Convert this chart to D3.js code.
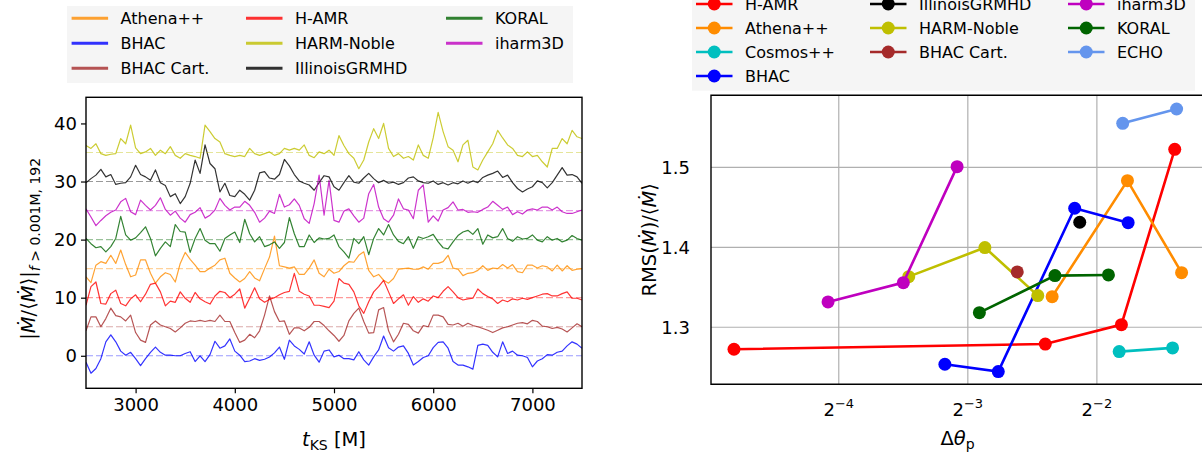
<!DOCTYPE html>
<html>
<head>
<meta charset="utf-8">
<script src="https://cdn.jsdelivr.net/npm/d3@7/dist/d3.min.js"></script>
<style>
  body { margin: 0; background: #fff; }
  svg { font-family: 'DejaVu Sans', sans-serif; }
</style>
</head>
<body>
<svg id="fig" width="1202" height="457"></svg>
<script>
// LEFT PANEL DATA: accretion rate (deviation from offset) vs time
const times = [
  2500, 2550, 2600, 2650, 2700, 2750, 2800, 2850, 2900, 2950,
  3000, 3050, 3100, 3150, 3200, 3250, 3300, 3350, 3400, 3450,
  3500, 3550, 3600, 3650, 3700, 3750, 3800, 3850, 3900, 3950,
  4000, 4050, 4100, 4150, 4200, 4250, 4300, 4350, 4400, 4450,
  4500, 4550, 4600, 4650, 4700, 4750, 4800, 4850, 4900, 4950,
  5000, 5050, 5100, 5150, 5200, 5250, 5300, 5350, 5400, 5450,
  5500, 5550, 5600, 5650, 5700, 5750, 5800, 5850, 5900, 5950,
  6000, 6050, 6100, 6150, 6200, 6250, 6300, 6350, 6400, 6450,
  6500, 6550, 6600, 6650, 6700, 6750, 6800, 6850, 6900, 6950,
  7000, 7050, 7100, 7150, 7200, 7250, 7300, 7350, 7400, 7450,
  7500];

const athenaMdot = [
  -1.4, -2.4, 0.6, 1.2, 0.9, 2.3, 0.9, 3.2, 0.7, -1.4,
  -1.1, 1.5, 1.5, -0.8, -2.5, -1.4, -0.7, -1.0, -2.3, 0.9,
  2.8, 1.6, 0.6, -0.5, -0.5, 0.1, 0.6, 1.5, 1.8, -0.8,
  -1.6, -2.3, -1.7, -0.5, -1.6, -2.1, 0.0, 2.0, 5.6, 0.5,
  0.3, 0.1, 0.3, -1.0, -1.0, 0.1, 1.5, -0.8, -1.4, -0.1,
  -0.8, -0.5, 0.5, 1.2, 1.1, 2.3, 2.9, -0.3, -1.4, -1.0,
  -2.0, -2.5, -1.7, -0.1, 0.0, 0.1, -0.1, -0.1, 0.3, -0.1,
  0.9, 0.9, 1.2, 2.3, 0.1, -0.1, -1.2, -0.8, -0.7, -0.3,
  0.5, -0.3, 0.1, 0.0, 0.7, 0.1, 0.7, -0.5, -0.7, 0.6,
  0.6, 0.1, 0.5, 0.3, -0.4, 0.6, -0.4, 0.5, -0.3, -0.1,
  0.0];
const bhacMdot = [
  -1.1, -3.0, -2.2, -0.5, 2.4, 3.6, 2.4, 0.8, 0.1, 0.6,
  -0.5, -1.7, -0.5, 0.6, 1.5, 0.6, 0.1, 0.1, 0.0, 0.0,
  0.4, 0.7, -1.0, 0.0, -1.0, 0.2, 2.5, 1.3, 1.7, 2.9,
  0.8, 0.1, -1.0, -0.9, -0.5, -0.8, -0.6, -0.2, 0.5, 1.5,
  -0.6, 2.7, 1.7, 1.1, 0.3, 2.4, 0.1, -1.1, 0.8, 1.0,
  -0.2, 0.1, -0.5, -0.5, -0.7, 0.7, -0.7, -1.6, -0.2, 1.0,
  3.4, 1.4, 0.8, 1.5, 1.7, 0.4, -1.6, -1.0, -0.3, 0.0,
  1.4, 2.3, 2.4, 1.3, -1.0, -1.6, -1.6, -1.9, -2.3, 1.8,
  2.0, 1.8, 0.6, -0.2, 2.4, 0.4, 0.8, 0.1, 0.0, -0.3,
  -1.9, -0.9, -0.5, 0.2, 0.1, 0.6, 0.8, 1.7, 2.4, 2.0,
  1.3];
const bhacCartMdot = [
  -0.7, 1.7, 1.7, 0.0, 1.4, 3.2, 1.9, 1.7, 1.0, 2.0,
  -1.0, -2.3, -2.7, 0.3, 1.0, 0.3, 0.0, -0.3, -0.9, -0.2,
  0.6, 1.0, 0.9, 1.1, 0.9, 1.1, 0.9, 2.0, 0.9, 0.9,
  -1.0, -2.7, -2.3, -1.3, -1.9, -0.7, 2.0, 5.3, 2.6, 0.9,
  1.0, -1.3, -0.2, -0.2, -0.7, -0.1, 0.9, 0.9, 0.2, -0.7,
  -1.5, -2.5, -1.5, 1.0, 2.3, 3.2, 0.9, -1.1, -1.0, 2.9,
  3.3, -0.7, -2.6, -1.3, 0.6, 0.4, -0.7, -1.1, 0.2, 0.0,
  2.0, 2.0, 1.7, 0.4, 0.3, 0.6, 0.1, 0.6, 0.2, 0.0,
  -0.3, -0.6, -1.0, -0.6, -0.2, 0.0, 0.3, 0.6, 0.7, 0.5,
  1.1, 0.9, 0.1, 0.0, -0.3, -0.1, -0.4, -0.9, -0.2, 0.5,
  0.0];
const hamrMdot = [
  -1.3, 1.9, 2.7, -1.0, -1.1, 0.7, 1.3, -1.0, -1.4, -0.2,
  0.5, -0.7, 0.6, 2.3, 2.5, 1.0, -1.4, -0.6, -0.8, 1.0,
  -0.1, -0.8, 0.9, -0.2, -0.7, -1.1, 0.3, 1.1, 0.9, 0.0,
  0.6, 1.5, -1.8, -0.1, 1.7, -0.2, -0.8, -0.3, 0.0, 0.5,
  0.9, 1.1, 4.2, 1.1, 0.6, 0.3, -1.3, -1.3, -1.5, -1.7,
  -0.6, 3.3, 2.5, 2.3, 1.0, -1.4, -2.7, -0.7, 1.0, 1.9,
  3.0, 1.0, -1.0, -0.2, 0.5, -1.3, 0.2, -0.8, -0.2, -0.6,
  0.3, 0.0, 1.1, 1.9, 1.0, 0.0, -0.4, -0.2, -0.1, 1.5,
  0.7, 0.2, -0.2, -1.0, -0.4, -0.7, -0.2, -0.4, -0.1, -0.3,
  0.0, 0.3, 0.6, 0.7, 0.3, 0.3, 0.7, 1.0, -0.1, -0.1,
  -0.4];
const harmNobleMdot = [
  1.2, 0.7, 1.5, -0.2, -0.5, -0.3, -0.2, 2.4, 1.5, 4.7,
  0.8, -0.2, 0.1, 0.7, -0.5, 0.4, -0.2, 1.0, -0.5, -1.0,
  -0.2, -0.5, -0.7, -1.0, 4.7, 3.6, 2.4, 1.8, -0.2, -0.5,
  -0.7, -0.5, -0.7, 0.7, -0.2, -0.5, -0.2, 0.1, -0.5, -0.2,
  0.7, 0.4, 0.7, 0.4, 1.3, -0.5, -0.9, 0.1, -0.2, 0.4,
  -0.5, 2.9, 1.2, -0.2, -1.0, -2.8, -1.3, 1.8, 4.1, 2.4,
  5.0, 0.7, -0.7, -0.2, -1.0, -0.7, -1.3, 1.3, -0.5, -1.0,
  2.5, 6.9, 3.6, 1.0, 0.4, -1.6, 1.3, 2.1, -2.5, -3.0,
  -1.3, 0.1, 1.5, 3.8, 2.5, 1.3, 0.7, -0.5, -0.7, 0.1,
  -0.7, -0.5, -1.6, -2.5, 0.7, 0.7, 2.4, 1.5, 3.8, 2.7,
  2.4];
const illinoisMdot = [
  -0.2, 0.5, 1.1, 2.1, 0.8, 1.2, -0.5, -0.3, -0.2, 0.8,
  2.8, 1.2, 0.8, 0.2, 2.0, -0.2, -0.7, -2.6, -2.1, -3.8,
  -2.6, -0.3, 3.7, 1.4, 6.3, 3.1, 2.2, -1.8, -0.3, -2.4,
  -2.6, -1.5, -2.2, -3.2, -1.5, 1.5, 1.7, 0.6, 0.4, 1.2,
  3.8, 2.7, 1.2, 0.1, -0.3, -0.6, -1.5, -0.2, 1.0, 0.8,
  -0.9, -1.5, -0.2, 1.0, -0.1, -0.3, 0.6, 1.4, 0.5, -0.2,
  0.2, -0.3, -0.1, -0.5, -0.2, 0.6, 0.8, 0.1, -0.2, -0.3,
  0.1, -0.5, -0.2, -0.6, -0.2, -0.4, 0.1, -0.3, 0.1, -0.2,
  0.7, 1.1, 1.4, 1.8, 0.7, 1.1, -0.2, -1.2, -1.8, -1.3,
  -0.9, 0.1, -0.2, -1.1, -0.2, 1.1, 2.4, 1.1, 1.2, 0.8,
  -0.3];
const koralMdot = [
  0.2, -0.7, -1.4, -1.2, -2.1, -1.2, 0.2, 4.0, 0.8, -0.1,
  0.3, 1.2, 2.2, 0.2, -2.8, -1.5, -0.4, -1.2, 2.6, 1.4,
  1.3, -2.2, 0.2, 1.9, -0.1, -0.7, -0.7, -2.0, 0.2, 0.8,
  1.3, -0.5, 3.5, 1.0, -0.4, 0.5, -1.2, -0.9, -0.4, -1.5,
  -0.5, 3.8, 1.0, -1.2, -1.2, 0.8, -0.5, 0.3, 0.1, 0.2,
  0.8, -1.2, -2.1, -3.2, 0.2, -0.7, 0.5, -2.6, 0.2, 1.9,
  0.8, 2.6, 0.8, -0.3, -0.7, 0.5, -1.5, 0.5, 0.2, 0.5,
  0.9, -0.4, -1.4, -1.6, -0.4, 0.7, 1.3, 1.6, 0.9, 1.9,
  -0.8, 0.8, 0.3, 0.5, 1.9, 0.2, -0.3, 0.5, 0.1, 0.2,
  0.8, -0.1, -0.4, 0.5, -0.1, 0.2, -0.4, -0.1, 0.7, 0.2,
  -0.1];
const iharmMdot = [
  0.3, -1.1, -2.6, -1.7, -0.9, -0.3, 0.1, 1.5, 2.1, -0.2,
  -0.7, 1.8, 0.9, 0.1, 0.9, 2.2, 0.2, -0.8, -0.1, -1.3,
  -2.0, -0.7, -0.3, 0.5, -1.3, -0.8, 0.1, 2.1, 0.9, 0.1,
  0.6, 0.6, 1.6, 0.9, -0.3, -2.0, -1.3, -0.1, -0.5, 2.8,
  0.6, 1.0, 2.0, 0.9, -1.4, -2.2, 1.2, 6.1, -0.8, 5.2,
  -1.7, -2.0, -0.1, 0.3, -0.9, -2.0, -1.3, 2.9, 4.5, 0.6,
  -1.4, -2.0, -0.8, 2.0, 0.3, 0.1, -1.4, 3.5, 4.4, -2.0,
  -0.9, -1.8, 0.1, 0.5, 1.5, 0.1, 0.2, -0.3, -0.2, -0.3,
  0.2, 0.6, 1.6, 0.9, 0.2, 0.6, -0.7, -0.2, -0.6, 0.1,
  0.3, 0.1, 0.6, 0.6, 0.1, 0.6, -0.2, -0.5, -0.5, -0.2,
  0.1];

const leftCodes = ['Athena++', 'BHAC', 'BHAC Cart.', 'H-AMR', 'HARM-Noble', 'IllinoisGRMHD', 'KORAL', 'iharm3D'];
const leftOffsets = [15, 0, 5, 10, 35, 30, 20, 25];
const leftColors = ['#ff8c00', '#0000ff', '#a52a2a', '#ff0000', '#bfbf00', '#000000', '#006400', '#bf00bf'];
const leftValues = [athenaMdot, bhacMdot, bhacCartMdot, hamrMdot, harmNobleMdot, illinoisMdot, koralMdot, iharmMdot];
const leftXTicks = [3000, 4000, 5000, 6000, 7000];
const leftYTicks = [0, 10, 20, 30, 40];

// RIGHT PANEL DATA: RMS(Mdot)/<Mdot> vs polar resolution
const hamrTheta = [0.0356, 0.1895, 0.2852, 0.3798];
const hamrRms = [1.2725, 1.279, 1.3033, 1.5225];
const athenaTheta = [0.1966, 0.2946, 0.394];
const athenaRms = [1.3383, 1.4833, 1.3683];
const cosmosTheta = [0.2818, 0.3754];
const cosmosRms = [1.2696, 1.2742];
const bhacTheta = [0.1105, 0.1472, 0.2219, 0.2957];
const bhacRms = [1.2538, 1.2446, 1.4488, 1.4308];
const illinoisTheta = [0.228];
const illinoisRms = [1.4313];
const harmNobleTheta = [0.091, 0.137, 0.182];
const harmNobleRms = [1.3633, 1.3996, 1.3396];
const bhacCartTheta = [0.163];
const bhacCartRms = [1.3692];
const iharmTheta = [0.059, 0.0884, 0.118];
const iharmRms = [1.3317, 1.3558, 1.5008];
const koralTheta = [0.133, 0.1996, 0.266];
const koralRms = [1.3183, 1.3646, 1.3654];
const echoTheta = [0.2872, 0.3836];
const echoRms = [1.555, 1.5729];

const rightCodes = ['H-AMR', 'Athena++', 'Cosmos++', 'BHAC', 'IllinoisGRMHD', 'HARM-Noble', 'BHAC Cart.', 'iharm3D', 'KORAL', 'ECHO'];
const rightColors = ['#ff0000', '#ff8c00', '#00bfbf', '#0000ff', '#000000', '#bfbf00', '#a52a2a', '#bf00bf', '#006400', '#6495ed'];
const rightTheta = [hamrTheta, athenaTheta, cosmosTheta, bhacTheta, illinoisTheta, harmNobleTheta, bhacCartTheta, iharmTheta, koralTheta, echoTheta];
const rightRms = [hamrRms, athenaRms, cosmosRms, bhacRms, illinoisRms, harmNobleRms, bhacCartRms, iharmRms, koralRms, echoRms];
const rightXTicks = [-4, -3, -2];
const rightYTicks = [1.3, 1.4, 1.5];

const svg = d3.select('#fig');
const TICK_FONT = '18px';
const LABEL_FONT = '19.5px';
const SUB_FONT = '14px';
const LEGEND_FONT = '16px';

// ---------- LEFT PANEL ----------
const L = { left: 86, right: 582, top: 97.3, bottom: 388.3 };
const xL = d3.scaleLinear().domain([2500, 7500]).range([L.left, L.right]);
const yL = d3.scaleLinear().domain([-5.6, 44.5]).range([L.bottom, L.top]);

svg.append('clipPath').attr('id', 'clipL')
  .append('rect')
  .attr('x', L.left).attr('y', L.top)
  .attr('width', L.right - L.left).attr('height', L.bottom - L.top);

const plotL = svg.append('g').attr('clip-path', 'url(#clipL)');

leftValues.forEach((vals, k) => {
  const off = leftOffsets[k];
  const line = d3.line()
    .x((d, i) => xL(times[i]))
    .y((d) => yL(d + off));
  plotL.append('path')
    .datum(vals)
    .attr('d', line)
    .attr('fill', 'none')
    .attr('stroke', leftColors[k])
    .attr('stroke-opacity', 0.8)
    .attr('stroke-width', 1.2)
    .attr('stroke-linejoin', 'round');
});

// dashed reference lines at each offset
leftOffsets.forEach((off, k) => {
  plotL.append('line')
    .attr('x1', L.left).attr('x2', L.right)
    .attr('y1', yL(off)).attr('y2', yL(off))
    .attr('stroke', leftColors[k])
    .attr('stroke-opacity', 0.4)
    .attr('stroke-width', 1.2)
    .attr('stroke-dasharray', '7,3');
});

const gxL = svg.append('g')
  .attr('transform', `translate(0, ${L.bottom})`)
  .call(d3.axisBottom(xL).tickValues(leftXTicks).tickSize(5).tickPadding(5).tickFormat(d3.format('d')));
const gyL = svg.append('g')
  .attr('transform', `translate(${L.left}, 0)`)
  .call(d3.axisLeft(yL).tickValues(leftYTicks).tickSize(5).tickPadding(4));
[gxL, gyL].forEach((g) => {
  g.attr('font-family', null).attr('font-size', null);
  g.select('.domain').remove();
  g.selectAll('.tick line').attr('stroke', '#000').attr('stroke-width', 1.2);
  g.selectAll('.tick text').attr('fill', '#000').style('font-size', TICK_FONT);
});

svg.append('rect')
  .attr('x', L.left).attr('y', L.top)
  .attr('width', L.right - L.left).attr('height', L.bottom - L.top)
  .attr('fill', 'none').attr('stroke', '#000').attr('stroke-width', 1.4);

// x label: t_KS [M]
const xlabL = svg.append('text')
  .attr('x', (L.left + L.right) / 2).attr('y', 446)
  .attr('text-anchor', 'middle')
  .style('font-size', LABEL_FONT);
xlabL.append('tspan').attr('font-style', 'italic').text('t');
xlabL.append('tspan').attr('dy', 4).style('font-size', SUB_FONT).text('KS');
xlabL.append('tspan').attr('dy', -4).text(' [M]');

// y label
const ylabL = svg.append('text')
  .attr('transform', `translate(35, ${(L.top + L.bottom) / 2 + 6}) rotate(-90)`)
  .attr('text-anchor', 'middle')
  .style('font-size', LABEL_FONT);
ylabL.append('tspan').text('|');
ylabL.append('tspan').attr('font-style', 'italic').text('Ṁ');
ylabL.append('tspan').text('/⟨');
ylabL.append('tspan').attr('font-style', 'italic').text('Ṁ');
ylabL.append('tspan').text('⟩|');
ylabL.append('tspan').attr('dy', 5).style('font-size', SUB_FONT).attr('font-style', 'italic').text('f');
ylabL.append('tspan').style('font-size', SUB_FONT).text(' > 0.001M, 192');

// left legend
svg.append('rect')
  .attr('x', 67).attr('y', 6).attr('width', 506).attr('height', 77)
  .attr('fill', '#f5f5f5');
const legColsL = [71.6, 246, 446];
leftCodes.forEach((name, k) => {
  const col = Math.floor(k / 3), row = k % 3;
  const x0 = legColsL[col], y0 = 18.3 + row * 25;
  svg.append('line')
    .attr('x1', x0).attr('x2', x0 + 36.5)
    .attr('y1', y0).attr('y2', y0)
    .attr('stroke', leftColors[k]).attr('stroke-opacity', 0.8)
    .attr('stroke-width', 3);
  svg.append('text')
    .attr('x', x0 + 49).attr('y', y0)
    .attr('dominant-baseline', 'central')
    .style('font-size', LEGEND_FONT)
    .text(name);
});

// ---------- RIGHT PANEL ----------
const R = { left: 711, right: 1204, top: 95.3, bottom: 384.3 };
const xR = d3.scaleLog().base(2)
  .domain([Math.pow(2, -4.99), Math.pow(2, -1.17)])
  .range([R.left, R.right]);
const yR = d3.scaleLinear().domain([1.2287, 1.59]).range([R.bottom, R.top]);

svg.append('clipPath').attr('id', 'clipR')
  .append('rect')
  .attr('x', R.left).attr('y', R.top)
  .attr('width', R.right - R.left).attr('height', R.bottom - R.top);

const gridR = svg.append('g');
rightXTicks.forEach((p) => {
  gridR.append('line')
    .attr('x1', xR(Math.pow(2, p))).attr('x2', xR(Math.pow(2, p)))
    .attr('y1', R.top).attr('y2', R.bottom)
    .attr('stroke', '#b0b0b0').attr('stroke-width', 1.2);
  const t = svg.append('text')
    .attr('x', xR(Math.pow(2, p))).attr('y', 416)
    .attr('text-anchor', 'middle')
    .style('font-size', TICK_FONT);
  t.append('tspan').text('2');
  t.append('tspan').attr('dy', -8).style('font-size', '13px').text('−' + Math.abs(p));
});
rightYTicks.forEach((v) => {
  gridR.append('line')
    .attr('x1', R.left).attr('x2', R.right)
    .attr('y1', yR(v)).attr('y2', yR(v))
    .attr('stroke', '#b0b0b0').attr('stroke-width', 1.2);
  svg.append('text')
    .attr('x', 690).attr('y', yR(v))
    .attr('text-anchor', 'end')
    .attr('dominant-baseline', 'central')
    .style('font-size', TICK_FONT)
    .text(d3.format('.1f')(v));
});

const plotR = svg.append('g').attr('clip-path', 'url(#clipR)');
rightCodes.forEach((name, k) => {
  const pts = rightTheta[k].map((th, i) => [th, rightRms[k][i]]);
  const g = plotR.append('g');
  g.append('path')
    .datum(pts)
    .attr('d', d3.line().x((d) => xR(d[0])).y((d) => yR(d[1])))
    .attr('fill', 'none')
    .attr('stroke', rightColors[k])
    .attr('stroke-width', 2.6);
  g.selectAll('circle')
    .data(pts)
    .join('circle')
    .attr('cx', (d) => xR(d[0]))
    .attr('cy', (d) => yR(d[1]))
    .attr('r', 6.5)
    .attr('fill', rightColors[k]);
});

svg.append('path')
  .attr('d', `M${R.right},${R.top}H${R.left}V${R.bottom}H${R.right}`)
  .attr('fill', 'none').attr('stroke', '#000').attr('stroke-width', 1.4);

// x label: delta theta_p
const xlabR = svg.append('text')
  .attr('x', (R.left + R.right) / 2).attr('y', 445)
  .attr('text-anchor', 'middle')
  .style('font-size', LABEL_FONT);
xlabR.append('tspan').text('Δ');
xlabR.append('tspan').attr('font-style', 'italic').text('θ');
xlabR.append('tspan').attr('dy', 4).style('font-size', SUB_FONT).text('p');

// y label: RMS(Mdot)/<Mdot>
const ylabR = svg.append('text')
  .attr('transform', `translate(656, ${(R.top + R.bottom) / 2}) rotate(-90)`)
  .attr('text-anchor', 'middle')
  .style('font-size', LABEL_FONT);
ylabR.append('tspan').text('RMS(');
ylabR.append('tspan').attr('font-style', 'italic').text('Ṁ');
ylabR.append('tspan').text(')/⟨');
ylabR.append('tspan').attr('font-style', 'italic').text('Ṁ');
ylabR.append('tspan').text('⟩');

// right legend
svg.append('rect')
  .attr('x', 692).attr('y', -20).attr('width', 503).attr('height', 110.7)
  .attr('fill', '#f5f5f5');
const legColsR = [696, 870, 1068];
rightCodes.forEach((name, k) => {
  let col, row;
  if (k < 4) { col = 0; row = k; } else if (k < 7) { col = 1; row = k - 4; } else { col = 2; row = k - 7; }
  const x0 = legColsR[col], y0 = 4 + row * 24;
  svg.append('line')
    .attr('x1', x0).attr('x2', x0 + 36.5)
    .attr('y1', y0).attr('y2', y0)
    .attr('stroke', rightColors[k]).attr('stroke-width', 2.6);
  svg.append('circle')
    .attr('cx', x0 + 18.25).attr('cy', y0).attr('r', 6.5)
    .attr('fill', rightColors[k]);
  svg.append('text')
    .attr('x', x0 + 49).attr('y', y0)
    .attr('dominant-baseline', 'central')
    .style('font-size', LEGEND_FONT)
    .text(name);
});
</script>
</body>
</html>
